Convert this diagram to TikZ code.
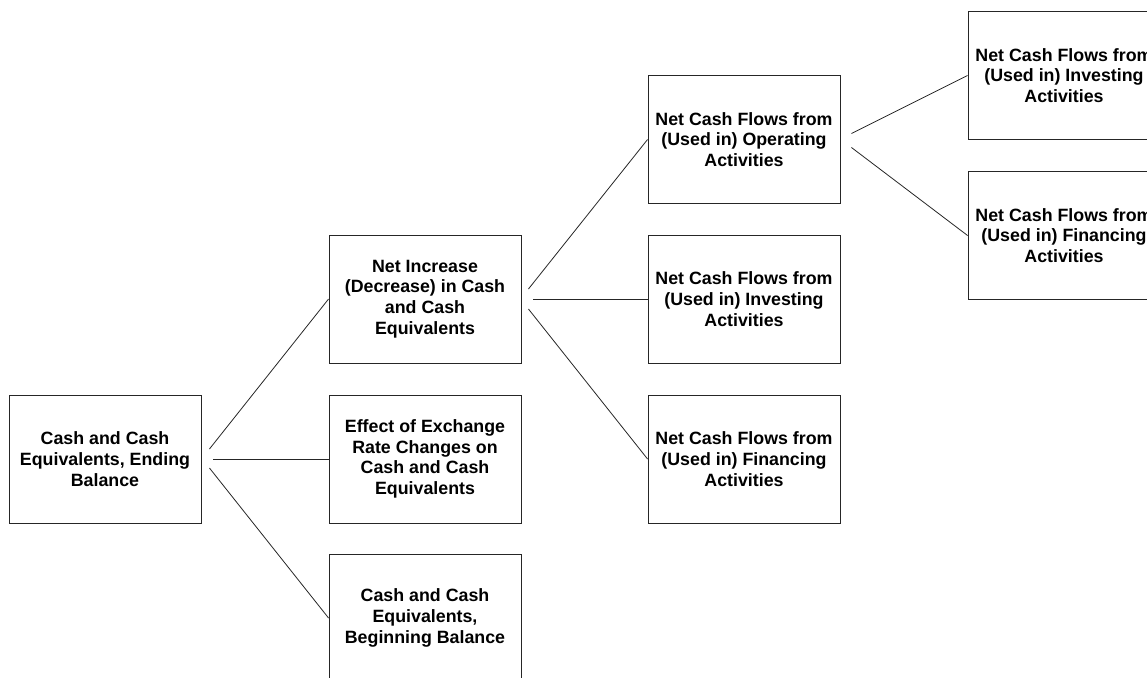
\documentclass[tikz,border=0pt]{standalone}
\usepackage{fontspec}
\setmainfont{Liberation Sans}
\begin{document}
\begin{tikzpicture}[x=1pt,y=-1pt,
  box/.style={draw=black!85, line width=0.9pt, minimum width=192pt, minimum height=128pt,
    inner sep=0pt, align=center, font=\fontsize{17.8}{20.7}\selectfont\bfseries},
  link/.style={draw=black!85, line width=0.8pt}]
\useasboundingbox (0,0) rectangle (1147,677);
% level 1
\node[box] (end) at (105,459) {Cash and Cash\\Equivalents, Ending\\Balance};
% level 2
\node[box] (inc) at (425,299) {Net Increase\\(Decrease) in Cash\\and Cash\\Equivalents};
\node[box] (fx)  at (425,459) {Effect of Exchange\\Rate Changes on\\Cash and Cash\\Equivalents};
\node[box] (beg) at (425,618) {Cash and Cash\\Equivalents,\\Beginning Balance};
% level 3
\node[box] (op)  at (744,139.5) {Net Cash Flows from\\(Used in) Operating\\Activities};
\node[box] (inv) at (744,299) {Net Cash Flows from\\(Used in) Investing\\Activities};
\node[box] (fin) at (744,459) {Net Cash Flows from\\(Used in) Financing\\Activities};
% level 4
\node[box] (inv2) at (1064,75.5) {Net Cash Flows from\\(Used in) Investing\\Activities};
\node[box] (fin2) at (1064,235.5) {Net Cash Flows from\\(Used in) Financing\\Activities};
% connectors
\draw[link] ([shift={(8,-10)}]end.east) -- (inc.west);
\draw[link] ([shift={(12,0)}]end.east) -- (fx.west);
\draw[link] ([shift={(8,9)}]end.east) -- (beg.west);
\draw[link] ([shift={(7,-10)}]inc.east) -- (op.west);
\draw[link] ([shift={(12,0)}]inc.east) -- (inv.west);
\draw[link] ([shift={(7,10)}]inc.east) -- (fin.west);
\draw[link] ([shift={(11,-6)}]op.east) -- (inv2.west);
\draw[link] ([shift={(11,8)}]op.east) -- (fin2.west);
\end{tikzpicture}
\end{document}
